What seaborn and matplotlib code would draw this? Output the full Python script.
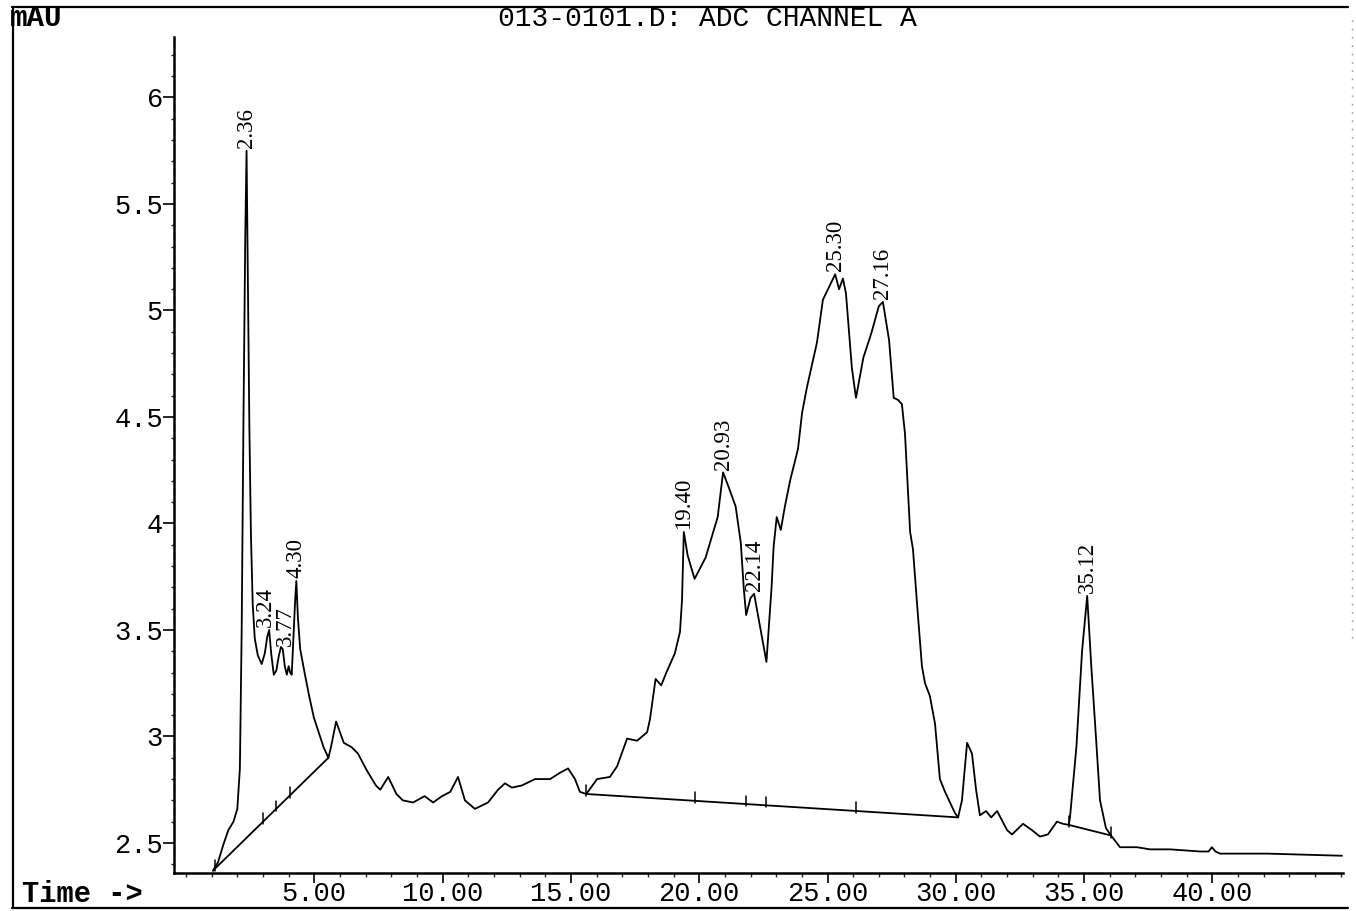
import numpy as np
import pandas as pd
import matplotlib
matplotlib.use("Agg")
import matplotlib.pyplot as plt
from matplotlib.lines import Line2D
from matplotlib.ticker import MultipleLocator, FixedLocator
import seaborn as sns

# ---- detector trace: retention time (min) and response (mAU) ----
retention_time = [
    1.05, 1.25, 1.45, 1.65, 1.85, 2.00, 2.10, 2.17, 2.24, 2.31, 2.36, 2.41, 2.47,
    2.53, 2.60, 2.68, 2.80, 2.95, 3.07, 3.17, 3.24, 3.32, 3.42, 3.52, 3.62, 3.70,
    3.77, 3.85, 3.93, 4.00, 4.06, 4.12, 4.19, 4.25, 4.30, 4.36, 4.45, 4.62, 4.80,
    4.98, 5.17, 5.36, 5.55, 5.65, 5.85, 6.15, 6.45, 6.70, 7.05, 7.40, 7.57, 7.88,
    8.20, 8.45, 8.85, 9.30, 9.63, 9.98, 10.30, 10.60, 10.87, 11.26, 11.77, 12.16,
    12.43, 12.70, 13.09, 13.60, 14.19, 14.58, 14.89, 15.16, 15.35, 15.60, 16.02,
    16.52, 16.80, 17.19, 17.58, 17.97, 18.08, 18.30, 18.52, 18.72, 19.05, 19.25,
    19.33, 19.40, 19.55, 19.82, 20.25, 20.72, 20.93, 21.15, 21.42, 21.62, 21.74,
    21.83, 22.00, 22.14, 22.38, 22.62, 22.82, 22.90, 23.02, 23.18, 23.34, 23.54,
    23.85, 24.01, 24.20, 24.59, 24.82, 25.02, 25.30, 25.45, 25.60, 25.72, 25.95,
    26.11, 26.40, 26.70, 27.00, 27.16, 27.40, 27.58, 27.75, 27.90, 28.02, 28.22,
    28.33, 28.53, 28.68, 28.80, 28.99, 29.19, 29.38, 29.58, 29.97, 30.09, 30.24,
    30.44, 30.63, 30.79, 30.94, 31.18, 31.38, 31.61, 32.00, 32.19, 32.62, 32.97,
    33.28, 33.59, 33.94, 34.18, 34.40, 34.45, 34.70, 34.92, 35.12, 35.28, 35.45,
    35.62, 35.85, 36.05, 36.40, 36.67, 37.06, 37.57, 38.35, 39.52, 39.85, 39.98,
    40.12, 40.30, 42.13, 45.05,
]
absorbance = [
    2.37, 2.41, 2.49, 2.56, 2.60, 2.66, 2.85, 3.50, 4.50, 5.35, 5.75, 5.15, 4.45,
    3.95, 3.62, 3.46, 3.38, 3.34, 3.39, 3.47, 3.50, 3.39, 3.29, 3.31, 3.38, 3.42,
    3.41, 3.33, 3.29, 3.33, 3.30, 3.29, 3.47, 3.63, 3.73, 3.56, 3.41, 3.30, 3.19,
    3.09, 3.02, 2.95, 2.90, 2.95, 3.07, 2.97, 2.95, 2.92, 2.84, 2.77, 2.75, 2.81,
    2.73, 2.70, 2.69, 2.72, 2.69, 2.72, 2.74, 2.81, 2.70, 2.66, 2.69, 2.75,
    2.78, 2.76, 2.77, 2.80, 2.80, 2.83, 2.85, 2.80, 2.74, 2.73, 2.80,
    2.81, 2.86, 2.99, 2.98, 3.02, 3.08, 3.27, 3.24, 3.30, 3.39, 3.49,
    3.64, 3.96, 3.85, 3.74, 3.84, 4.03, 4.24, 4.17, 4.08, 3.91, 3.69,
    3.57, 3.65, 3.67, 3.51, 3.35, 3.70, 3.89, 4.03, 3.97, 4.08, 4.20,
    4.35, 4.52, 4.64, 4.85, 5.05, 5.10, 5.17, 5.10, 5.15, 5.08, 4.73,
    4.59, 4.78, 4.89, 5.02, 5.04, 4.86, 4.59, 4.58, 4.56, 4.42, 3.96,
    3.88, 3.56, 3.33, 3.25, 3.19, 3.06, 2.80, 2.74, 2.64, 2.62, 2.70,
    2.97, 2.92, 2.75, 2.63, 2.65, 2.62, 2.65, 2.56, 2.54, 2.59, 2.56,
    2.53, 2.54, 2.60, 2.59, 2.585, 2.62, 2.95, 3.40, 3.66, 3.33, 3.02,
    2.70, 2.57, 2.535, 2.48, 2.48, 2.48, 2.47, 2.47, 2.46, 2.46, 2.48,
    2.46, 2.45, 2.45, 2.44,
]

# ---- labelled peaks (retention times) ----
peak_times = [2.36, 3.24, 3.77, 4.30, 19.40, 20.93, 22.14, 25.30, 27.16, 35.12]
peak_labels = ["2.36", "3.24", "3.77", "4.30", "19.40", "20.93", "22.14",
               "25.30", "27.16", "35.12"]
# small sideways nudges (points) so crowded labels stay readable
peak_label_dx = [0, -3, 2, 0, 0, 0, 0, 0, 0, 0]

# ---- integration baselines ----
baseline_start_t = [1.05, 15.60, 34.40]
baseline_start_v = [2.37, 2.73, 2.585]
baseline_end_t = [5.55, 30.09, 36.05]
baseline_end_v = [2.90, 2.62, 2.535]

# integration event marks along the baselines
event_times = [1.12, 3.00, 3.50, 4.05, 15.60, 19.82, 21.83, 22.62, 26.11,
               34.40, 36.05]

# ---- axis ticks ----
x_ticks = [5, 10, 15, 20, 25, 30, 35, 40]
x_tick_labels = ["5.00", "10.00", "15.00", "20.00", "25.00", "30.00", "35.00", "40.00"]
y_ticks = [2.5, 3.0, 3.5, 4.0, 4.5, 5.0, 5.5, 6.0]
y_tick_labels = ["2.5", "3", "3.5", "4", "4.5", "5", "5.5", "6"]

sns.set_style("ticks")
plt.rcParams["font.family"] = ["Liberation Mono", "DejaVu Sans Mono"]

W, H = 1356, 911
fig = plt.figure(figsize=(W / 100, H / 100), dpi=100)
fig.patch.set_facecolor("white")
ax = fig.add_axes([174 / W, 1 - 873 / H, (1343 - 174) / W, (873 - 37) / H])
ax.set_facecolor("white")

trace = pd.DataFrame({"time": retention_time, "mAU": absorbance})
sns.lineplot(data=trace, x="time", y="mAU", sort=False, estimator=None,
             color="black", linewidth=1.3, ax=ax)

# baselines
for t0, v0, t1, v1 in zip(baseline_start_t, baseline_start_v,
                          baseline_end_t, baseline_end_v):
    seg = pd.DataFrame({"time": [t0, t1], "mAU": [v0, v1]})
    sns.lineplot(data=seg, x="time", y="mAU", sort=False, estimator=None,
                 color="black", linewidth=1.3, ax=ax)


def baseline_at(t):
    for t0, v0, t1, v1 in zip(baseline_start_t, baseline_start_v,
                              baseline_end_t, baseline_end_v):
        if t0 - 1e-9 <= t <= t1 + 1e-9:
            return v0 + (v1 - v0) * (t - t0) / (t1 - t0)
    return None


for t in event_times:
    b = baseline_at(t)
    if b is not None:
        ax.plot([t, t], [b - 0.01, b + 0.04], color="black", linewidth=1.1)

# peak retention-time labels
rt_arr = np.array(retention_time)
ab_arr = np.array(absorbance)
for t, lab, dx in zip(peak_times, peak_labels, peak_label_dx):
    v = float(np.interp(t, rt_arr, ab_arr))
    ax.annotate(lab, xy=(t, v), xytext=(dx, 2), textcoords="offset points",
                rotation=90, ha="center", va="bottom", fontsize=16.5,
                family=["Liberation Serif", "DejaVu Serif"], color="black")

ax.set_xlim((174 - 186) / 25.66, (1343 - 186) / 25.66)
ax.set_ylim(2.359, 6.284)

for side in ("top", "right"):
    ax.spines[side].set_visible(False)
for side in ("left", "bottom"):
    ax.spines[side].set_linewidth(1.8)
    ax.spines[side].set_color("black")

ax.xaxis.set_major_locator(FixedLocator(x_ticks))
ax.set_xticklabels(x_tick_labels)
ax.xaxis.set_minor_locator(MultipleLocator(1))
ax.yaxis.set_major_locator(FixedLocator(y_ticks))
ax.set_yticklabels(y_tick_labels)
ax.yaxis.set_minor_locator(MultipleLocator(0.1))

ax.tick_params(axis="x", which="major", direction="out", length=7, width=1.2,
               pad=-1, labelsize=19.5, colors="black")
ax.tick_params(axis="x", which="minor", direction="out", length=3, width=1.0)
ax.tick_params(axis="y", which="major", direction="out", length=8, width=1.2,
               pad=0, labelsize=19.5, colors="black")
ax.tick_params(axis="y", which="minor", direction="out", length=2, width=1.0)
ax.set_xlabel("")
ax.set_ylabel("")
ax.grid(False)

# page header, footer and frame
fig.text(707 / W, 1 - 19 / H, "013-0101.D: ADC CHANNEL A", ha="center",
         va="center", fontsize=20.2, color="black")
fig.text(10 / W, 1 - 18 / H, "mAU", ha="left", va="center", fontsize=21,
         fontweight="bold", color="black")
fig.text(22 / W, 1 - 894 / H, "Time ->", ha="left", va="center", fontsize=20.7,
         fontweight="bold", color="black")

frame = dict(transform=fig.transFigure, color="black", linewidth=1.6)
fig.add_artist(Line2D([12 / W, 1348 / W], [1 - 7 / H, 1 - 7 / H], **frame))
fig.add_artist(Line2D([13 / W, 13 / W], [1 - 7 / H, 1 - 908 / H], **frame))
fig.add_artist(Line2D([12 / W, 1348 / W], [1 - 908 / H, 1 - 908 / H], **frame))
fig.add_artist(Line2D([1352 / W, 1352 / W], [1 - 20 / H, 1 - 640 / H],
                      transform=fig.transFigure, color="0.55", linewidth=1.0,
                      linestyle=(0, (1, 5))))

fig.savefig("out.png", dpi=100, facecolor="white")
